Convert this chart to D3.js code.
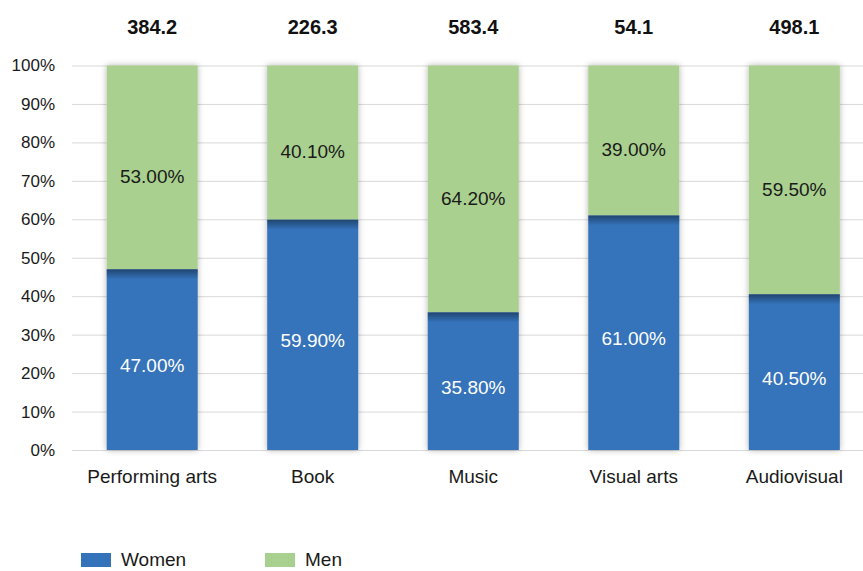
<!DOCTYPE html>
<html><head><meta charset="utf-8">
<script src="https://cdn.jsdelivr.net/npm/d3@7"></script>
<style>body{margin:0;background:#fff}svg{display:block;font-family:"Liberation Sans",Arial,sans-serif}</style>
</head><body><svg id="c" width="863" height="571"></svg>
<script>
const categories = ["Performing arts","Book","Music","Visual arts","Audiovisual"];
const women = [47.0, 59.9, 35.8, 61.0, 40.5];
const men = [53.0, 40.1, 64.2, 39.0, 59.5];
const totals = ["384.2","226.3","583.4","54.1","498.1"];
const yTicks = [0,10,20,30,40,50,60,70,80,90,100];
const seriesNames = ["Women","Men"];
const colors = {Women:"#3473BA", Men:"#A9D08E"};

const svg = d3.select("#c");
const W = 863;
const x = d3.scaleBand().domain(categories).range([72, 874.5]).paddingInner(0.433).paddingOuter(0.216);
const y = d3.scaleLinear().domain([0,100]).range([450, 65.5]);

const defs = svg.append("defs");
const f = defs.append("filter").attr("id","sh").attr("x","-30%").attr("y","-10%").attr("width","160%").attr("height","120%");
f.append("feDropShadow").attr("dx",0).attr("dy",0).attr("stdDeviation",3).attr("flood-color","#000").attr("flood-opacity",0.3);
const g = defs.append("linearGradient").attr("id","tg").attr("x1",0).attr("x2",0).attr("y1",0).attr("y2",1);
g.append("stop").attr("offset","0%").attr("stop-color","#000").attr("stop-opacity",0.4);
g.append("stop").attr("offset","100%").attr("stop-color","#000").attr("stop-opacity",0);

// gridlines
svg.append("g").selectAll("line").data(yTicks).join("line")
  .attr("x1",72).attr("x2",W).attr("y1",d=>y(d)+0.5).attr("y2",d=>y(d)+0.5)
  .attr("stroke","#D9D9D9").attr("stroke-width",1);

// y axis labels
const yAxis = d3.axisLeft(y).tickValues(yTicks).tickFormat(d=>d+"%").tickSize(0).tickPadding(0);
const ya = svg.append("g").attr("transform","translate(55,0)").call(yAxis);
ya.select(".domain").remove();
ya.selectAll("text").attr("font-size",17).attr("fill","#1a1a1a").attr("font-family","'Liberation Sans',Arial,sans-serif");

const data = categories.map((c,i)=>({c, w:women[i], m:men[i], t:totals[i]}));
const bars = svg.append("g");
const bg = bars.selectAll("g").data(data).join("g");
bg.append("g").attr("filter","url(#sh)").each(function(d){
  const s = d3.select(this);
  s.append("rect").attr("x",x(d.c)).attr("width",x.bandwidth())
    .attr("y",y(d.w+d.m)).attr("height",y(d.w)-y(d.w+d.m)).attr("fill",colors.Men);
  s.append("rect").attr("x",x(d.c)).attr("width",x.bandwidth())
    .attr("y",y(d.w)).attr("height",y(0)-y(d.w)).attr("fill",colors.Women);
});
bg.append("rect").attr("x",d=>x(d.c)).attr("width",x.bandwidth())
  .attr("y",d=>y(d.w)).attr("height",10).attr("fill","url(#tg)");

// value labels
bg.append("text").attr("x",d=>x(d.c)+x.bandwidth()/2).attr("y",d=>(y(d.w)+y(0))/2+6)
  .attr("dy","0.35em").attr("text-anchor","middle").attr("font-size",19).attr("fill","#fff")
  .text(d=>d.w.toFixed(2)+"%");
bg.append("text").attr("x",d=>x(d.c)+x.bandwidth()/2).attr("y",d=>(y(d.w+d.m)+y(d.w))/2+9)
  .attr("dy","0.35em").attr("text-anchor","middle").attr("font-size",19).attr("fill","#1a1a1a")
  .text(d=>d.m.toFixed(2)+"%");
// totals
bg.append("text").attr("x",d=>x(d.c)+x.bandwidth()/2).attr("y",34)
  .attr("text-anchor","middle").attr("font-size",20).attr("font-weight","bold").attr("fill","#111")
  .text(d=>d.t);

// x axis labels
const xAxis = d3.axisBottom(x).tickSize(0).tickPadding(0);
const xa = svg.append("g").attr("transform","translate(0,469)").call(xAxis);
xa.select(".domain").remove();
xa.selectAll("text").attr("font-size",19).attr("fill","#1a1a1a").attr("font-family","'Liberation Sans',Arial,sans-serif");

// legend
const lg = svg.append("g").selectAll("g").data(seriesNames).join("g")
  .attr("transform",(d,i)=>`translate(${81+i*184},553)`);
lg.append("rect").attr("width",30).attr("height",14).attr("fill",d=>colors[d]);
lg.append("text").attr("x",40).attr("y",13).attr("font-size",19).attr("fill","#1a1a1a").text(d=>d);
</script></body></html>
